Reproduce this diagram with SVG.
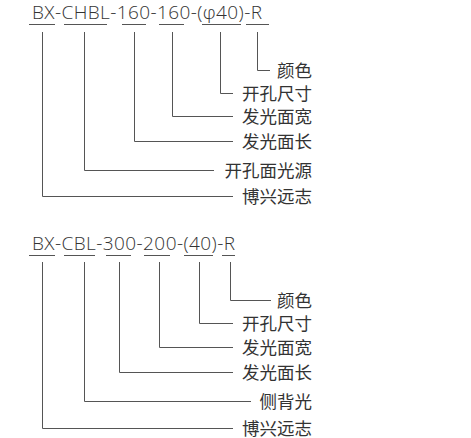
<svg xmlns="http://www.w3.org/2000/svg" width="471" height="438" viewBox="0 0 471 438">
<style>
.t{font-family:"Open Sans","Noto Sans","Noto Sans CJK SC",sans-serif;font-size:19px;font-weight:300;fill:#333}
.l{font-family:"Noto Sans CJK SC",sans-serif;font-size:17.5px;fill:#333;text-anchor:end}
.c{fill:none;stroke:#555;stroke-width:1}
</style>
<rect width="471" height="438" fill="#fff"/>
<g id="code1">
<text class="t" x="32" y="18.5" textLength="230" lengthAdjust="spacing">BX-CHBL-160-160-(φ40)-R</text>
</g>
<g id="code2">
<text class="t" x="32" y="249.5" textLength="203" lengthAdjust="spacing">BX-CBL-300-200-(40)-R</text>
</g>
<g id="connectors">
<path class="c" d="M29 24.5H55M64 24.5H107M122 24.5H146M159 24.5H184M202 24.5H241M246 24.5H269"/>
<path class="c" d="M257.5 32V70.5H270M220.5 32V93.5H233M172.5 32V116.5H233M134.5 32V141.5H233M84.5 32V170.5H214M42.5 32V196.5H233"/>
<path class="c" d="M29 255.5H55M64 255.5H95M106 255.5H131M144 255.5H170M184 255.5H213M222 255.5H235"/>
<path class="c" d="M230.5 262V300.5H271M199.5 262V323.5H233M159.5 262V347.5H233M119.5 262V372.5H233M84.5 262V401.5H251M42.5 262V428.5H233"/>
</g>
<g id="labels1">
<text class="l" x="312" y="76.5">颜色</text>
<text class="l" x="312" y="99.5">开孔尺寸</text>
<text class="l" x="312" y="122.5">发光面宽</text>
<text class="l" x="312" y="147.5">发光面长</text>
<text class="l" x="312" y="176.5">开孔面光源</text>
<text class="l" x="312" y="202.5">博兴远志</text>
</g>
<g id="labels2">
<text class="l" x="312" y="306.5">颜色</text>
<text class="l" x="312" y="329.5">开孔尺寸</text>
<text class="l" x="312" y="353.5">发光面宽</text>
<text class="l" x="312" y="378.5">发光面长</text>
<text class="l" x="312" y="407.5">侧背光</text>
<text class="l" x="312" y="434.5">博兴远志</text>
</g>
</svg>
